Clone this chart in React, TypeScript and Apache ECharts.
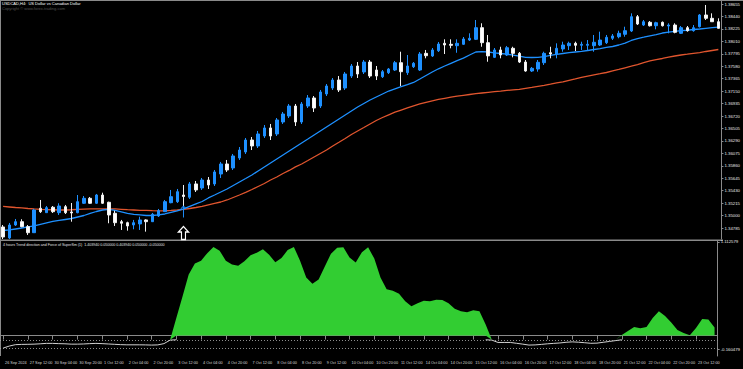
import { useEffect, useRef } from "react";
import * as echarts from "echarts";

const categories = [
  "26 Sep 20:00",
  "27 Sep 00:00", "27 Sep 04:00", "27 Sep 08:00", "27 Sep 12:00", "27 Sep 16:00", "27 Sep 20:00",
  "30 Sep 00:00", "30 Sep 04:00", "30 Sep 08:00", "30 Sep 12:00", "30 Sep 16:00", "30 Sep 20:00",
  "1 Oct 00:00", "1 Oct 04:00", "1 Oct 08:00", "1 Oct 12:00", "1 Oct 16:00", "1 Oct 20:00",
  "2 Oct 00:00", "2 Oct 04:00", "2 Oct 08:00", "2 Oct 12:00", "2 Oct 16:00", "2 Oct 20:00",
  "3 Oct 00:00", "3 Oct 04:00", "3 Oct 08:00", "3 Oct 12:00", "3 Oct 16:00", "3 Oct 20:00",
  "4 Oct 00:00", "4 Oct 04:00", "4 Oct 08:00", "4 Oct 12:00", "4 Oct 16:00", "4 Oct 20:00",
  "7 Oct 00:00", "7 Oct 04:00", "7 Oct 08:00", "7 Oct 12:00", "7 Oct 16:00", "7 Oct 20:00",
  "8 Oct 00:00", "8 Oct 04:00", "8 Oct 08:00", "8 Oct 12:00", "8 Oct 16:00", "8 Oct 20:00",
  "9 Oct 00:00", "9 Oct 04:00", "9 Oct 08:00", "9 Oct 12:00", "9 Oct 16:00", "9 Oct 20:00",
  "10 Oct 00:00", "10 Oct 04:00", "10 Oct 08:00", "10 Oct 12:00", "10 Oct 16:00", "10 Oct 20:00",
  "11 Oct 00:00", "11 Oct 04:00", "11 Oct 08:00", "11 Oct 12:00", "11 Oct 16:00", "11 Oct 20:00",
  "14 Oct 00:00", "14 Oct 04:00", "14 Oct 08:00", "14 Oct 12:00", "14 Oct 16:00", "14 Oct 20:00",
  "15 Oct 00:00", "15 Oct 04:00", "15 Oct 08:00", "15 Oct 12:00", "15 Oct 16:00", "15 Oct 20:00",
  "16 Oct 00:00", "16 Oct 04:00", "16 Oct 08:00", "16 Oct 12:00", "16 Oct 16:00", "16 Oct 20:00",
  "17 Oct 00:00", "17 Oct 04:00", "17 Oct 08:00", "17 Oct 12:00", "17 Oct 16:00", "17 Oct 20:00",
  "18 Oct 00:00", "18 Oct 04:00", "18 Oct 08:00", "18 Oct 12:00", "18 Oct 16:00", "18 Oct 20:00",
  "21 Oct 00:00", "21 Oct 04:00", "21 Oct 08:00", "21 Oct 12:00", "21 Oct 16:00", "21 Oct 20:00",
  "22 Oct 00:00", "22 Oct 04:00", "22 Oct 08:00", "22 Oct 12:00", "22 Oct 16:00", "22 Oct 20:00",
  "23 Oct 00:00", "23 Oct 04:00", "23 Oct 08:00", "23 Oct 12:00", "23 Oct 16:00", "23 Oct 20:00",
  "24 Oct 00:00",
];

const tickLabels = [
  "26 Sep 2024", "27 Sep 12:00", "30 Sep 04:00", "30 Sep 20:00", "1 Oct 12:00", "2 Oct 04:00",
  "2 Oct 20:00", "3 Oct 12:00", "4 Oct 04:00", "4 Oct 20:00", "7 Oct 12:00", "8 Oct 04:00",
  "8 Oct 20:00", "9 Oct 12:00", "10 Oct 04:00", "10 Oct 20:00", "11 Oct 12:00", "14 Oct 04:00",
  "14 Oct 20:00", "15 Oct 12:00", "16 Oct 04:00", "16 Oct 20:00", "17 Oct 12:00", "18 Oct 04:00",
  "18 Oct 20:00", "21 Oct 12:00", "22 Oct 04:00", "22 Oct 20:00", "23 Oct 12:00",
];

const opens = [
  1.34804, 1.34614, 1.34838, 1.34895, 1.34809, 1.34705, 1.35127, 1.35051, 1.35144, 1.35051,
  1.35154, 1.35063, 1.35051, 1.35213, 1.35299, 1.35213, 1.35356, 1.35230, 1.35040, 1.34895,
  1.34878, 1.34838, 1.34856, 1.34925, 1.34895, 1.34994, 1.35068, 1.35223, 1.35241, 1.35356,
  1.35317, 1.35547, 1.35477, 1.35615, 1.35547, 1.35719, 1.35892, 1.35823, 1.35995, 1.36099,
  1.36306, 1.36203, 1.36375, 1.36514, 1.36410, 1.36617, 1.36721, 1.36893, 1.36617, 1.36893,
  1.37032, 1.36893, 1.37101, 1.37204, 1.37342, 1.37204, 1.37411, 1.37584, 1.37481, 1.37653,
  1.37515, 1.37399, 1.37469, 1.37515, 1.37641, 1.37469, 1.37572, 1.37515, 1.37803, 1.37757,
  1.37848, 1.37976, 1.37959, 1.37935, 1.37959, 1.38033, 1.38045, 1.38246, 1.37987, 1.37734,
  1.37861, 1.37774, 1.37890, 1.37803, 1.37653, 1.37498, 1.37532, 1.37641, 1.37814, 1.37791,
  1.37878, 1.37935, 1.37976, 1.37942, 1.37942, 1.37935, 1.37947, 1.37987, 1.38063, 1.38090,
  1.38132, 1.38189, 1.38436, 1.38292, 1.38339, 1.38280, 1.38339, 1.38275, 1.38292, 1.38149,
  1.38246, 1.38194, 1.38263, 1.38465, 1.38408, 1.38349,
];
const highs = [
  1.34838, 1.34873, 1.34942, 1.34937, 1.34838, 1.35115, 1.35270, 1.35166, 1.35166, 1.35213,
  1.35184, 1.35218, 1.35356, 1.35339, 1.35322, 1.35374, 1.35396, 1.35241, 1.35085, 1.34925,
  1.34895, 1.34925, 1.34981, 1.34937, 1.35046, 1.35115, 1.35270, 1.35443, 1.35460, 1.35529,
  1.35581, 1.35598, 1.35650, 1.35667, 1.35788, 1.35927, 1.35961, 1.36065, 1.36185, 1.36341,
  1.36358, 1.36462, 1.36565, 1.36583, 1.36686, 1.36790, 1.36928, 1.36928, 1.36962, 1.37083,
  1.37066, 1.37170, 1.37273, 1.37377, 1.37411, 1.37481, 1.37619, 1.37653, 1.37688, 1.37688,
  1.37584, 1.37515, 1.37550, 1.37671, 1.37831, 1.37774, 1.37653, 1.37826, 1.37861, 1.37895,
  1.37999, 1.38045, 1.38045, 1.38045, 1.38085, 1.38149, 1.38379, 1.38322, 1.38120, 1.37895,
  1.37917, 1.37930, 1.37917, 1.37826, 1.37688, 1.37567, 1.37688, 1.37831, 1.37917, 1.37976,
  1.38004, 1.38004, 1.38004, 1.38004, 1.38033, 1.38120, 1.38177, 1.38120, 1.38137, 1.38194,
  1.38263, 1.38494, 1.38465, 1.38379, 1.38361, 1.38349, 1.38353, 1.38322, 1.38322, 1.38275,
  1.38275, 1.38292, 1.38482, 1.38638, 1.38494, 1.38408,
];
const lows = [
  1.34596, 1.34596, 1.34821, 1.34798, 1.34666, 1.34700, 1.35046, 1.35046, 1.35046, 1.35011,
  1.35028, 1.34895, 1.35040, 1.35201, 1.35201, 1.35201, 1.35201, 1.34868, 1.34821, 1.34752,
  1.34740, 1.34764, 1.34752, 1.34723, 1.34890, 1.34976, 1.35063, 1.35213, 1.35218, 1.35154,
  1.35287, 1.35408, 1.35443, 1.35460, 1.35512, 1.35650, 1.35754, 1.35788, 1.35961, 1.36065,
  1.36133, 1.36168, 1.36341, 1.36306, 1.36375, 1.36583, 1.36686, 1.36548, 1.36583, 1.36859,
  1.36790, 1.36859, 1.37066, 1.37170, 1.37135, 1.37170, 1.37377, 1.37377, 1.37446, 1.37377,
  1.37342, 1.37377, 1.37446, 1.37498, 1.37239, 1.37429, 1.37550, 1.37498, 1.37717, 1.37740,
  1.37826, 1.37791, 1.37890, 1.37813, 1.37947, 1.38016, 1.38033, 1.37917, 1.37658, 1.37722,
  1.37717, 1.37757, 1.37734, 1.37636, 1.37486, 1.37481, 1.37486, 1.37602, 1.37717, 1.37717,
  1.37831, 1.37861, 1.37843, 1.37861, 1.37861, 1.37831, 1.37930, 1.37964, 1.38033, 1.38063,
  1.38090, 1.38171, 1.38292, 1.38275, 1.38266, 1.38218, 1.38266, 1.38149, 1.38149, 1.38137,
  1.38177, 1.38177, 1.38249, 1.38379, 1.38344, 1.38232,
];
const closes = [
  1.34631, 1.34838, 1.34895, 1.34809, 1.34705, 1.35097, 1.35068, 1.35137, 1.35068, 1.35166,
  1.35051, 1.35046, 1.35241, 1.35299, 1.35213, 1.35356, 1.35213, 1.35011, 1.34878, 1.34868,
  1.34821, 1.34878, 1.34925, 1.34895, 1.35023, 1.35085, 1.35241, 1.35327, 1.35413, 1.35330,
  1.35547, 1.35443, 1.35615, 1.35529, 1.35754, 1.35892, 1.35788, 1.36030, 1.36133, 1.36306,
  1.36203, 1.36410, 1.36514, 1.36375, 1.36652, 1.36755, 1.36893, 1.36617, 1.36928, 1.37032,
  1.36859, 1.37135, 1.37239, 1.37342, 1.37170, 1.37446, 1.37584, 1.37446, 1.37653, 1.37411,
  1.37411, 1.37486, 1.37532, 1.37641, 1.37486, 1.37584, 1.37631, 1.37791, 1.37762, 1.37861,
  1.37964, 1.37947, 1.37942, 1.37976, 1.38051, 1.38063, 1.38246, 1.37987, 1.37759, 1.37861,
  1.37774, 1.37900, 1.37803, 1.37653, 1.37498, 1.37544, 1.37648, 1.37803, 1.37791, 1.37890,
  1.37947, 1.37976, 1.37942, 1.37959, 1.37959, 1.37994, 1.38033, 1.38080, 1.38103, 1.38149,
  1.38194, 1.38436, 1.38310, 1.38349, 1.38280, 1.38332, 1.38280, 1.38292, 1.38166, 1.38246,
  1.38194, 1.38246, 1.38465, 1.38408, 1.38349, 1.38235,
];

const fastMA = [
  1.34743, 1.34752, 1.34769, 1.34786, 1.34804, 1.34821, 1.34847, 1.34873, 1.34899, 1.34916,
  1.34933, 1.34950, 1.34976, 1.35002, 1.35037, 1.35071, 1.35097, 1.35106, 1.35089, 1.35063,
  1.35037, 1.35020, 1.35011, 1.35002, 1.35002, 1.35011, 1.35028, 1.35054, 1.35080, 1.35115,
  1.35158, 1.35201, 1.35244, 1.35305, 1.35356, 1.35408, 1.35460, 1.35521, 1.35581, 1.35641,
  1.35702, 1.35771, 1.35840, 1.35909, 1.35978, 1.36047, 1.36116, 1.36185, 1.36254, 1.36323,
  1.36393, 1.36462, 1.36531, 1.36600, 1.36669, 1.36738, 1.36807, 1.36876, 1.36937, 1.36997,
  1.37049, 1.37101, 1.37152, 1.37190, 1.37227, 1.37263, 1.37300, 1.37360, 1.37421, 1.37481,
  1.37536, 1.37584, 1.37631, 1.37676, 1.37719, 1.37774, 1.37826, 1.37831, 1.37826, 1.37810,
  1.37800, 1.37788, 1.37774, 1.37753, 1.37734, 1.37731, 1.37734, 1.37748, 1.37769, 1.37786,
  1.37800, 1.37814, 1.37826, 1.37838, 1.37852, 1.37869, 1.37886, 1.37907, 1.37921, 1.37947,
  1.37981, 1.38025, 1.38059, 1.38082, 1.38106, 1.38128, 1.38154, 1.38171, 1.38183, 1.38194,
  1.38202, 1.38215, 1.38223, 1.38235, 1.38246, 1.38254,
];
const slowMA = [
  1.35158, 1.35149, 1.35140, 1.35132, 1.35123, 1.35115, 1.35109, 1.35104, 1.35101, 1.35097,
  1.35097, 1.35101, 1.35106, 1.35111, 1.35115, 1.35118, 1.35118, 1.35118, 1.35115, 1.35109,
  1.35102, 1.35097, 1.35092, 1.35089, 1.35085, 1.35083, 1.35083, 1.35089, 1.35097, 1.35109,
  1.35123, 1.35140, 1.35158, 1.35184, 1.35210, 1.35235, 1.35270, 1.35313, 1.35356, 1.35400,
  1.35451, 1.35503, 1.35555, 1.35615, 1.35667, 1.35728, 1.35780, 1.35841, 1.35892, 1.35952,
  1.36013, 1.36073, 1.36133, 1.36203, 1.36267, 1.36332, 1.36401, 1.36462, 1.36522, 1.36583,
  1.36643, 1.36695, 1.36741, 1.36786, 1.36824, 1.36862, 1.36897, 1.36928, 1.36957, 1.36983,
  1.37006, 1.37026, 1.37045, 1.37063, 1.37078, 1.37092, 1.37106, 1.37118, 1.37130, 1.37142,
  1.37152, 1.37163, 1.37173, 1.37182, 1.37199, 1.37216, 1.37234, 1.37251, 1.37270, 1.37291,
  1.37311, 1.37336, 1.37360, 1.37386, 1.37410, 1.37431, 1.37451, 1.37472, 1.37498, 1.37524,
  1.37553, 1.37581, 1.37610, 1.37641, 1.37671, 1.37693, 1.37714, 1.37736, 1.37757, 1.37774,
  1.37788, 1.37804, 1.37817, 1.37835, 1.37852, 1.37869,
];

const trendForce = [
  -0.149, -0.125, -0.108, -0.105, -0.104, -0.102, -0.098, -0.093, -0.093, -0.096,
  -0.098, -0.102, -0.102, -0.100, -0.096, -0.093, -0.096, -0.100, -0.104, -0.108,
  -0.110, -0.110, -0.110, -0.111, -0.113, -0.111, -0.096, -0.054, 0.158, 0.415,
  0.676, 0.806, 0.841, 0.930, 1.003, 0.959, 0.841, 0.794, 0.779, 0.835,
  0.906, 0.936, 0.977, 0.912, 0.821, 0.871, 0.968, 1.003, 0.841, 0.641,
  0.567, 0.617, 0.771, 0.924, 0.995, 1.001, 0.877, 0.818, 0.942, 1.001,
  0.865, 0.641, 0.500, 0.484, 0.447, 0.358, 0.299, 0.335, 0.364, 0.358,
  0.376, 0.372, 0.335, 0.270, 0.240, 0.228, 0.252, 0.240, 0.081, -0.054,
  -0.082, -0.082, -0.082, -0.092, -0.102, -0.113, -0.111, -0.105, -0.098, -0.093,
  -0.088, -0.080, -0.075, -0.079, -0.085, -0.092, -0.090, -0.080, -0.070, -0.060,
  -0.043, 0.004, 0.052, 0.036, 0.052, 0.158, 0.240, 0.184, 0.105, 0.016,
  -0.019, -0.046, 0.040, 0.146, 0.140, 0.046,
];

const priceTicks = [
  1.38655, 1.3844, 1.38225, 1.3801, 1.37795, 1.3758, 1.37365, 1.3715, 1.36935, 1.3672,
  1.36505, 1.3629, 1.36075, 1.3586, 1.35645, 1.3543, 1.35215, 1.35, 1.34785,
];
const indicatorTicks = [-0.160479, 1.112579];
const baseLevel = -0.05;
const lowLevel = -0.155;
const signalBar = 29;
const signalArrowPrice = 1.347;
const signalCrossPrice = 1.35072;

const FONT = "Liberation Sans, Arial, sans-serif";

export default function App() {
  const ref = useRef<HTMLDivElement>(null);
  useEffect(() => {
    if (!ref.current) return;
    const chart = echarts.init(ref.current, undefined, { renderer: "svg" });
    const candleData = opens.map((o, i) => [o, closes[i], lows[i], highs[i]]);
    const n = trendForce.length;
    const greenTop = trendForce.map((v) => Math.max(v, baseLevel) - baseLevel);
    const baseLine = trendForce.map(() => baseLevel);
    const whiteLine = trendForce.map((v, i) => {
      const near =
        v < baseLevel ||
        (i > 0 && trendForce[i - 1] < baseLevel) ||
        (i < n - 1 && trendForce[i + 1] < baseLevel);
      return near ? Math.min(v, baseLevel) : null;
    });

    const gridL = -2;
    const gridR = 20;

    chart.setOption({
      animation: false,
      backgroundColor: "#000000",
      textStyle: { fontFamily: FONT },
      grid: [
        { left: gridL, right: gridR, top: 1, height: 238 },
        { left: gridL, right: gridR, top: 241, height: 115 },
      ],
      xAxis: [
        {
          type: "category",
          gridIndex: 0,
          data: categories,
          boundaryGap: true,
          axisLine: { show: false },
          axisTick: { show: false },
          axisLabel: { show: false },
          splitLine: { show: false },
        },
        {
          type: "category",
          gridIndex: 1,
          data: categories,
          boundaryGap: true,
          axisLine: { show: true, lineStyle: { color: "#8a8a8a", width: 1 } },
          axisTick: {
            show: true,
            interval: 3,
            alignWithLabel: true,
            length: 4,
            lineStyle: { color: "#8a8a8a" },
          },
          axisLabel: {
            show: true,
            interval: 3,
            align: "left",
            margin: 5,
            padding: [0, 0, 0, 2],
            fontSize: 3.8,
            color: "#d8d8d8",
            fontFamily: FONT,
            formatter: (v: string) => {
              const k = categories.indexOf(v);
              return k % 4 === 0 ? tickLabels[k / 4] ?? "" : "";
            },
          },
          splitLine: { show: false },
        },
      ],
      yAxis: [
        {
          type: "value",
          gridIndex: 0,
          position: "right",
          min: 1.34596,
          max: 1.38707,
          axisLine: { show: true, lineStyle: { color: "#8a8a8a", width: 1 } },
          axisTick: {
            show: true,
            length: 2,
            customValues: priceTicks,
            lineStyle: { color: "#8a8a8a" },
          },
          axisLabel: {
            show: true,
            customValues: priceTicks,
            margin: 3,
            fontSize: 4.3,
            color: "#e8e8e8",
            fontFamily: FONT,
            formatter: (v: number) => v.toFixed(5),
          },
          splitLine: { show: false },
        },
        {
          type: "value",
          gridIndex: 1,
          position: "right",
          min: -0.242998,
          max: 1.124367,
          axisLine: { show: true, lineStyle: { color: "#8a8a8a", width: 1 } },
          axisTick: {
            show: true,
            length: 2,
            customValues: indicatorTicks,
            lineStyle: { color: "#8a8a8a" },
          },
          axisLabel: {
            show: true,
            customValues: indicatorTicks,
            margin: 3,
            fontSize: 4.3,
            color: "#e8e8e8",
            fontFamily: FONT,
            formatter: (v: number) => v.toFixed(6),
          },
          splitLine: { show: false },
        },
      ],
      series: [
        {
          name: "MA slow",
          type: "line",
          xAxisIndex: 0,
          yAxisIndex: 0,
          data: slowMA,
          showSymbol: false,
          symbol: "none",
          lineStyle: { color: "#e0552e", width: 1.3 },
          z: 2,
        },
        {
          name: "MA fast",
          type: "line",
          xAxisIndex: 0,
          yAxisIndex: 0,
          data: fastMA,
          showSymbol: false,
          symbol: "none",
          lineStyle: { color: "#1e90ff", width: 1.3 },
          z: 2,
        },
        {
          name: "USDCAD",
          type: "candlestick",
          xAxisIndex: 0,
          yAxisIndex: 0,
          data: candleData,
          barWidth: 3,
          itemStyle: {
            color: "#1e90ff",
            color0: "#ffffff",
            borderColor: "#1e90ff",
            borderColor0: "#f0f0f0",
            borderWidth: 1,
          },
          markPoint: {
            silent: true,
            label: { show: false },
            data: [
              {
                coord: [signalBar, signalArrowPrice],
                symbol: "path://M5,0 L10,6 L7,6 L7,14 L3,14 L3,6 L0,6 Z",
                symbolSize: [10, 13],
                itemStyle: { color: "#000000", borderColor: "#ffffff", borderWidth: 1.3 },
              },
              {
                coord: [signalBar, signalCrossPrice],
                symbol:
                  "path://M2.5,0 L5,3 L4.4,3.5 L2.9,1.7 L2.9,12 L2.1,12 L2.1,1.7 L0.6,3.5 L0,3 Z",
                symbolSize: [6, 12],
                itemStyle: { color: "#1e90ff" },
              },
            ],
          },
          z: 3,
        },
        {
          name: "level",
          type: "line",
          xAxisIndex: 1,
          yAxisIndex: 1,
          data: whiteLine,
          showSymbol: false,
          symbol: "none",
          connectNulls: false,
          lineStyle: { color: "#d0d0d0", width: 1 },
          markLine: {
            silent: true,
            symbol: "none",
            label: { show: false },
            lineStyle: { color: "#b0b0b0", type: [1, 2], width: 0.8 },
            data: [{ yAxis: baseLevel }, { yAxis: lowLevel }],
          },
          z: 1,
        },
        {
          name: "base",
          type: "line",
          xAxisIndex: 1,
          yAxisIndex: 1,
          stack: "force",
          data: baseLine,
          showSymbol: false,
          symbol: "none",
          lineStyle: { opacity: 0 },
          z: 2,
        },
        {
          name: "Trend force",
          type: "line",
          xAxisIndex: 1,
          yAxisIndex: 1,
          stack: "force",
          data: greenTop,
          showSymbol: false,
          symbol: "none",
          lineStyle: { opacity: 0 },
          areaStyle: { color: "#32cd32", opacity: 1 },
          z: 3,
        },
      ],
      graphic: [
        {
          type: "line",
          shape: { x1: 0, y1: 0.5, x2: 743, y2: 0.5 },
          style: { stroke: "#8a8a8a", lineWidth: 1 },
          silent: true,
        },
        {
          type: "line",
          shape: { x1: 0.5, y1: 0, x2: 0.5, y2: 356 },
          style: { stroke: "#8a8a8a", lineWidth: 1 },
          silent: true,
        },
        {
          type: "line",
          shape: { x1: 0, y1: 240.3, x2: 723, y2: 240.3 },
          style: { stroke: "#8a8a8a", lineWidth: 1.5 },
          silent: true,
        },
        {
          type: "text",
          left: 2,
          top: 1,
          style: {
            text: "USDCAD,H4:  US Dollar vs Canadian Dollar",
            fill: "#ffffff",
            font: `4px ${FONT}`,
          },
          silent: true,
        },
        {
          type: "text",
          left: 2,
          top: 6,
          style: {
            text: "Copyright © www.forex-trading.com",
            fill: "#505050",
            font: `4px ${FONT}`,
          },
          silent: true,
        },
        {
          type: "text",
          left: 3,
          top: 243,
          style: {
            text: "4 hours Trend direction and Force of SuperSm (1)  1.403940 0.050000 0.403940 0.050000 -0.050000",
            fill: "#e0e0e0",
            font: `3.6px ${FONT}`,
          },
          silent: true,
        },
      ],
    });
    return () => chart.dispose();
  }, []);
  return <div ref={ref} style={{ width: 743, height: 369, position: "absolute", left: 0, top: 0 }} />;
}
